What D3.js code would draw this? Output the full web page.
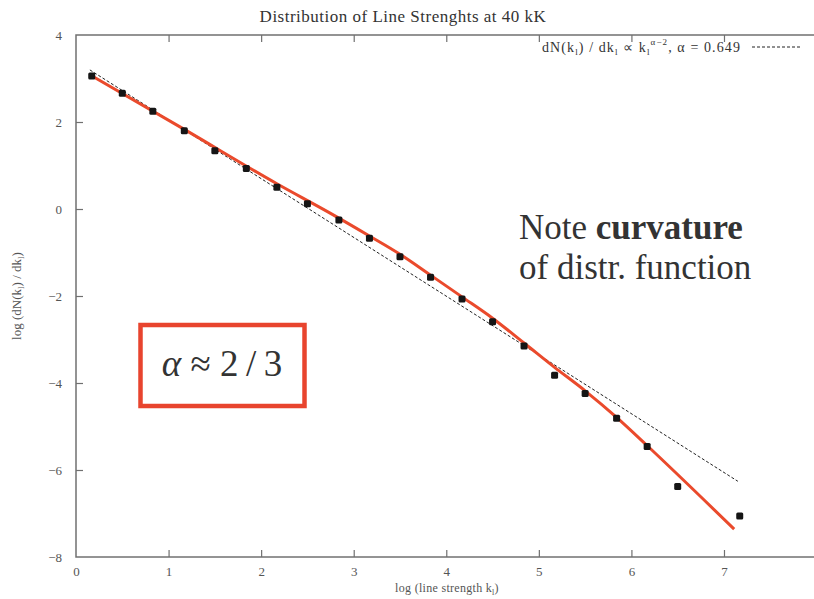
<!DOCTYPE html>
<html>
<head>
<meta charset="utf-8">
<script src="https://cdn.jsdelivr.net/npm/d3@7"></script>
<style>
  html, body { margin: 0; padding: 0; background: #fff; }
  svg { display: block; }
  text { font-family: "Liberation Serif", "Times New Roman", serif; }
</style>
</head>
<body>
<svg id="chart" width="814" height="599"></svg>
<script>
// Binned line-strength distribution: log k_l vs log(dN/dk_l)
const logK = [0.17, 0.50, 0.83, 1.17, 1.50, 1.84, 2.17, 2.50, 2.84, 3.17, 3.50,
              3.83, 4.17, 4.50, 4.84, 5.17, 5.50, 5.84, 6.17, 6.50, 7.17];
const logDist = [3.06, 2.66, 2.25, 1.80, 1.34, 0.93, 0.50, 0.12, -0.25, -0.67, -1.10,
                 -1.57, -2.07, -2.59, -3.15, -3.82, -4.24, -4.81, -5.46, -6.38, -7.06];

// Curved fit through the distribution (red)
const curveK = [0.17, 1.17, 2.17, 2.75, 3.17, 3.50, 3.83, 4.17, 4.50, 4.84, 5.17, 5.50, 5.84, 6.16, 7.11];
const curveVal = [3.06, 1.83, 0.58, -0.10, -0.62, -1.04, -1.52, -2.02, -2.51, -3.08, -3.64, -4.18, -4.79, -5.42, -7.36];

// Power-law fit: dN/dk ∝ k^(alpha-2)
const alpha = 0.649;
const fitIntercept = 3.40;
const fitRange = [0.15, 7.15];

const xTicks = [0, 1, 2, 3, 4, 5, 6, 7];
const yTicks = [4, 2, 0, -2, -4, -6, -8];

const svg = d3.select("#chart");
const padLeft = 76, padTop = 35, plotBottom = 557;
const serif = "'Liberation Serif', 'Times New Roman', serif";

const x = d3.scaleLinear().domain([0, 8]).range([padLeft, padLeft + 8 * 92.57]);
const y = d3.scaleLinear().domain([-8, 4]).range([plotBottom, padTop]);
const plotRight = x(8);

const frameColor = "#707070";
const labelColor = "#555";

// frame
svg.append("rect")
  .attr("x", padLeft).attr("y", padTop)
  .attr("width", plotRight - padLeft).attr("height", plotBottom - padTop)
  .attr("fill", "none").attr("stroke", frameColor).attr("stroke-width", 1.5);

// bottom axis with inward ticks
const xAxis = svg.append("g").attr("transform", `translate(0,${plotBottom})`)
  .call(d3.axisBottom(x).tickValues(xTicks).tickSize(-7).tickPadding(10).tickFormat(d3.format("d")));
xAxis.select(".domain").remove();
xAxis.selectAll("line").attr("stroke", frameColor).attr("stroke-width", 1.2);
xAxis.selectAll("text").attr("font-size", 13).attr("fill", labelColor)
  .style("font-family", serif);
xAxis.selectAll(".tick").filter(d => d === 0).select("line").remove();

// mirrored ticks on top edge
const xTop = svg.append("g").attr("transform", `translate(0,${padTop})`)
  .call(d3.axisTop(x).tickValues(xTicks.filter(d => d > 0)).tickSize(-7).tickFormat(""));
xTop.select(".domain").remove();
xTop.selectAll("line").attr("stroke", frameColor).attr("stroke-width", 1.2);

// left axis with inward ticks
const yAxis = svg.append("g").attr("transform", `translate(${padLeft},0)`)
  .call(d3.axisLeft(y).tickValues(yTicks).tickSize(-7).tickPadding(14).tickFormat(d3.format("d")));
yAxis.select(".domain").remove();
yAxis.selectAll("line").attr("stroke", frameColor).attr("stroke-width", 1.2);
yAxis.selectAll(".tick").filter(d => d === 4 || d === -8).select("line").remove();
yAxis.selectAll("text").attr("font-size", 13).attr("fill", labelColor)
  .style("font-family", serif);

// title
svg.append("text")
  .attr("x", 403).attr("y", 22)
  .attr("text-anchor", "middle")
  .style("font-family", serif)
  .attr("font-size", 17).attr("letter-spacing", 0.5).attr("fill", "#333")
  .text("Distribution of Line Strenghts at 40 kK");

// axis titles
const xt = svg.append("text")
  .attr("x", 447).attr("y", 592)
  .attr("text-anchor", "middle")
  .style("font-family", serif)
  .attr("font-size", 12).attr("letter-spacing", 0.3).attr("fill", labelColor);
xt.append("tspan").text("log (line strength k");
xt.append("tspan").attr("font-size", 8).attr("dy", 2.5).text("l");
xt.append("tspan").attr("dy", -2.5).text(")");

const yt = svg.append("text")
  .attr("transform", "translate(21,296) rotate(-90)")
  .attr("text-anchor", "middle")
  .style("font-family", serif)
  .attr("font-size", 13).attr("fill", labelColor);
yt.append("tspan").text("log (dN(k");
yt.append("tspan").attr("font-size", 9).attr("dy", 3).text("l");
yt.append("tspan").attr("dy", -3).text(") / dk");
yt.append("tspan").attr("font-size", 9).attr("dy", 3).text("l");
yt.append("tspan").attr("dy", -3).text(")");

// legend
const lg = svg.append("text")
  .attr("x", 741).attr("y", 52)
  .attr("text-anchor", "end")
  .style("font-family", serif)
  .attr("font-size", 14).attr("letter-spacing", 1.1).attr("fill", "#333");
lg.append("tspan").text("dN(k");
lg.append("tspan").attr("font-size", 9).attr("dy", 3).text("l");
lg.append("tspan").attr("dy", -3).text(") / dk");
lg.append("tspan").attr("font-size", 9).attr("dy", 3).text("l");
lg.append("tspan").attr("dy", -3).text(" \u221D k");
lg.append("tspan").attr("font-size", 9).attr("dy", 3).text("l");
lg.append("tspan").attr("font-size", 9).attr("dy", -10).text("\u03B1\u22122");
lg.append("tspan").attr("dy", 7).text(", \u03B1 = " + alpha);

svg.append("line")
  .attr("x1", 752).attr("x2", 800).attr("y1", 47).attr("y2", 47)
  .attr("stroke", "#222").attr("stroke-width", 1).attr("stroke-dasharray", "3,2");

// power-law fit line (dashed)
const fitLine = fitRange.map(k => [k, fitIntercept + (alpha - 2) * k]);
svg.append("path")
  .datum(fitLine)
  .attr("d", d3.line().x(d => x(d[0])).y(d => y(d[1])))
  .attr("fill", "none").attr("stroke", "#222").attr("stroke-width", 1)
  .attr("stroke-dasharray", "3,2");

// curved fit (red)
svg.append("path")
  .datum(curveK.map((k, i) => [k, curveVal[i]]))
  .attr("d", d3.line().x(d => x(d[0])).y(d => y(d[1])).curve(d3.curveMonotoneX))
  .attr("fill", "none").attr("stroke", "#ea4a2c").attr("stroke-width", 3);

// data points
svg.append("g").selectAll("rect")
  .data(logK.map((k, i) => [k, logDist[i]]))
  .join("rect")
  .attr("x", d => x(d[0]) - 3.5).attr("y", d => y(d[1]) - 3.5)
  .attr("width", 7).attr("height", 7).attr("rx", 1.5)
  .attr("fill", "#151515");

// annotation box
svg.append("rect")
  .attr("x", 140.5).attr("y", 325).attr("width", 164).attr("height", 81)
  .attr("fill", "#fff").attr("stroke", "#e8442e").attr("stroke-width", 4.5);

const ann = svg.append("text")
  .attr("x", 222).attr("y", 376)
  .attr("text-anchor", "middle")
  .style("font-family", serif)
  .attr("font-size", 37).attr("fill", "#333");
ann.append("tspan").attr("font-style", "italic").text("\u03B1");
ann.append("tspan").text(" \u2248 2\u2009/\u20093");

// curvature note
const note = svg.append("g").attr("fill", "#333").attr("font-size", 35)
  .style("font-family", serif);
const n1 = note.append("text").attr("x", 519).attr("y", 239);
n1.append("tspan").text("Note ");
n1.append("tspan").attr("font-weight", "bold").text("curvature");
note.append("text").attr("x", 519).attr("y", 279).text("of distr. function");
</script>
</body>
</html>
